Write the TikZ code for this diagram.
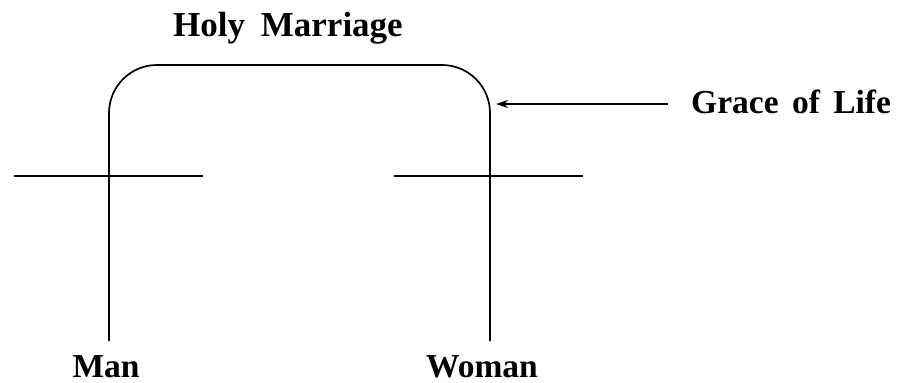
\documentclass[tikz,border=0pt]{standalone}
\usepackage{fontspec}
\setmainfont{Liberation Serif}
\usetikzlibrary{arrows.meta}
\begin{document}
\begin{tikzpicture}[x=1pt,y=-1pt,
  ln/.style={line width=1.7pt,black},
  lbl/.style={font=\fontsize{33.5}{38}\selectfont\bfseries,inner sep=0pt,anchor=base}]
\useasboundingbox (0,0) rectangle (908,383);
% U-shaped marriage line
\coordinate (mb) at (109,341);
\coordinate (wb) at (490,341);
\draw[ln,rounded corners=48pt] (mb) -- (109,65) -- (490,65) -- (wb);
% cross bars
\coordinate (ml) at (14,176);
\coordinate (mr) at (203,176);
\coordinate (wl) at (394,176);
\coordinate (wr) at (583,176);
\draw[ln] (ml) -- (mr);
\draw[ln] (wl) -- (wr);
% labels
\node[lbl,font=\fontsize{35}{40}\selectfont\bfseries] (hm) at (288,36) {Holy\hspace{0.45em}Marriage};
\node[lbl,anchor=base west] (gl) at (691,113) {Grace\hspace{0.4em}of\hspace{0.4em}Life};
\node[lbl] (man) at (106,377) {Man};
\node[lbl] (woman) at (482,377) {Woman};
% arrow
\coordinate (at) at (496,104);
\coordinate (as) at (668,104);
\draw[line width=1.4pt,-{Stealth[length=12pt,width=8pt]}] (as) -- (at);
\end{tikzpicture}
\end{document}
